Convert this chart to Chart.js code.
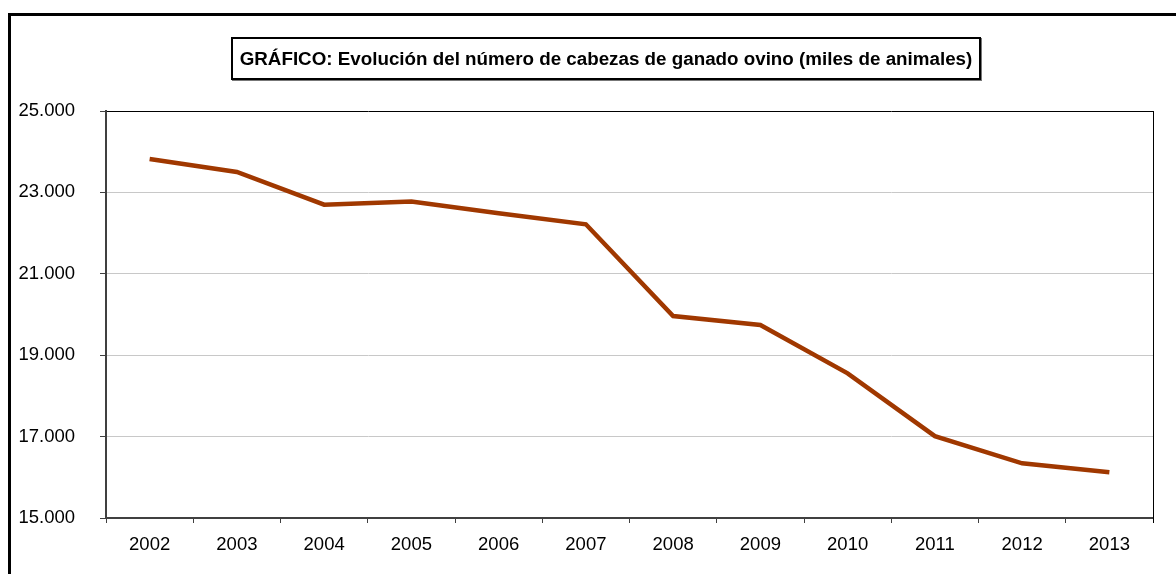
<!DOCTYPE html>
<html>
<head>
<meta charset="utf-8">
<script src="https://cdn.jsdelivr.net/npm/chart.js@4"></script>
<style>
  html, body { margin: 0; padding: 0; background: #fff; overflow: hidden; }
  #wrap { position: absolute; left: 0; top: 0; width: 1176px; height: 574px; }
  #frame { position: absolute; left: 8px; top: 13px; width: 1300px; height: 700px;
           border-left: 3px solid #000; border-top: 3px solid #000; box-sizing: border-box; }
  #title { position: absolute; left: 231px; top: 37px; width: 750px; height: 43px;
           box-sizing: border-box; border: 2px solid #000; box-shadow: 1px 1px 0 #777;
           font-family: "Liberation Sans", Arial, sans-serif; font-weight: bold; font-size: 18.8px;
           display: flex; align-items: center; justify-content: center; color: #000; background: #fff;
           white-space: nowrap; }
  #chartBox { position: absolute; left: 0; top: 0; width: 1176px; height: 574px; }
</style>
</head>
<body>
<div id="wrap">
  <div id="frame"></div>
  <div id="chartBox"><canvas id="c"></canvas></div>
  <div id="title">GRÁFICO: Evolución del número de cabezas de ganado ovino (miles de animales)</div>
</div>
<script>
const years = ["2002","2003","2004","2005","2006","2007","2008","2009","2010","2011","2012","2013"];
const sheep = [23821, 23501, 22698, 22776, 22486, 22216, 19963, 19742, 18555, 17010, 16344, 16122];
const yMin = 15000, yMax = 25000, yStep = 2000;

const fmt = v => v.toLocaleString('de-DE', {minimumFractionDigits: 0});
const FONT = "'Liberation Sans', Arial, sans-serif";

const borderPlugin = {
  id: 'plotBorder',
  afterDraw(chart) {
    const {ctx, chartArea: a} = chart;
    ctx.save();
    ctx.strokeStyle = '#000';
    ctx.lineWidth = 1;
    ctx.beginPath();
    ctx.moveTo(Math.round(a.right) + 0.5, a.top);
    ctx.lineTo(Math.round(a.right) + 0.5, a.bottom + 5);
    ctx.stroke();
    ctx.restore();
  }
};

new Chart(document.getElementById('c'), {
  type: 'line',
  data: {
    labels: years,
    datasets: [{
      data: sheep,
      borderColor: '#a03800',
      backgroundColor: '#a03800',
      borderWidth: 4.5,
      pointRadius: 0,
      tension: 0,
      fill: false
    }]
  },
  options: {
    responsive: true,
    maintainAspectRatio: false,
    animation: false,
    layout: { padding: { left: 10, top: 111, right: 23, bottom: 0 } },
    plugins: { legend: { display: false }, title: { display: false }, tooltip: { enabled: false } },
    scales: {
      x: {
        offset: true,
        grid: { offset: true, drawOnChartArea: false, drawTicks: true, tickLength: 5, tickColor: '#404040', tickWidth: 1 },
        border: { display: true, color: '#404040', width: 2 },
        ticks: { color: '#000', font: { family: FONT, size: 18.5 }, padding: 11, maxRotation: 0, autoSkip: false },
        afterFit(s) { s.height = 56; }
      },
      y: {
        min: yMin, max: yMax,
        grid: {
          color: c => (c.tick && c.tick.value === yMax) ? '#000' : '#c8c8c8',
          lineWidth: 1,
          drawTicks: true, tickLength: 6, tickColor: '#404040'
        },
        border: { display: true, color: '#404040', width: 2 },
        ticks: { stepSize: yStep, color: '#000', font: { family: FONT, size: 18.5 }, padding: 25, callback: v => fmt(v) },
        afterFit(s) { s.width = 96; }
      }
    }
  },
  plugins: [borderPlugin]
});
</script>
</body>
</html>
